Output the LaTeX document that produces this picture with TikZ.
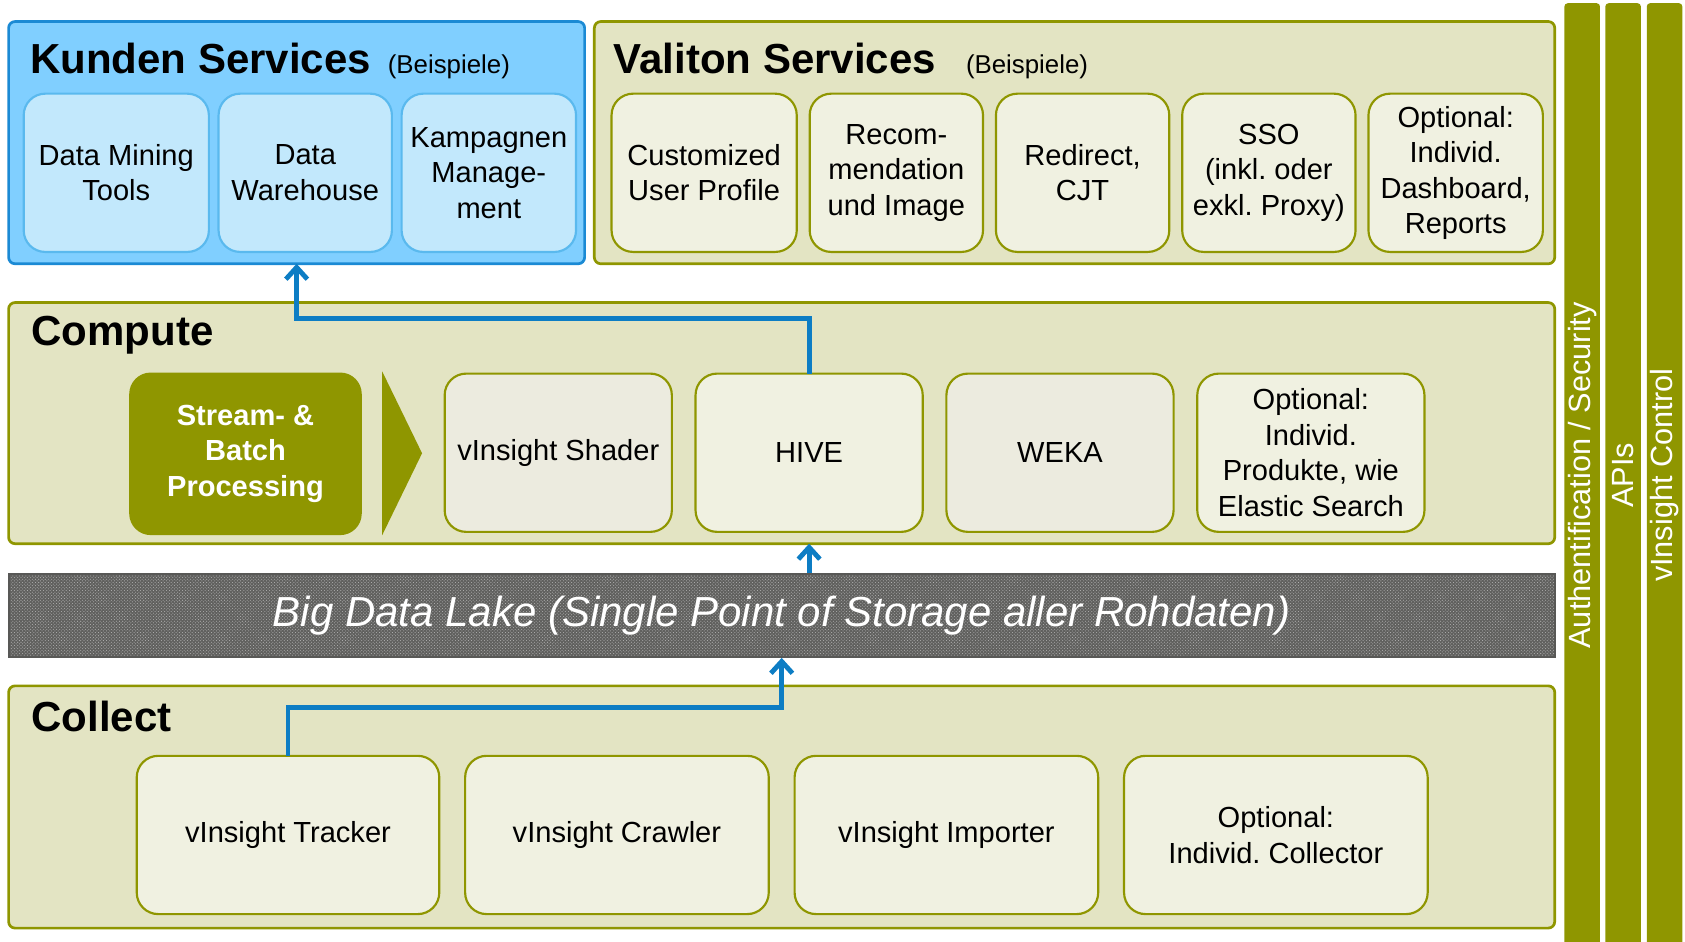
\documentclass[tikz,border=0pt]{standalone}
\usepackage{fontspec}
\setmainfont{Liberation Sans}
\usetikzlibrary{positioning, arrows.meta, patterns}
\frenchspacing
\definecolor{vgreen}{RGB}{143,150,0}
\definecolor{vfill}{RGB}{227,228,195}
\definecolor{vlight}{RGB}{240,241,225}
\definecolor{vgray}{RGB}{236,235,223}
\definecolor{kfill}{RGB}{128,207,255}
\definecolor{kline}{RGB}{27,138,212}
\definecolor{kitemfill}{RGB}{194,232,252}
\definecolor{kitemline}{RGB}{90,185,238}
\definecolor{flowblue}{RGB}{13,125,196}
\definecolor{lakedark}{RGB}{88,88,86}
\tikzset{
    group/.style={draw=vgreen, line width=2.5pt, fill=vfill, rounded corners=6pt, inner sep=0pt, outer sep=0pt}, % outer layer boxes
    kgroup/.style={group, draw=kline, fill=kfill},
    item/.style={draw=vgreen, line width=2pt, fill=vlight, rounded corners=20pt, align=center, inner sep=0pt, outer sep=0pt, minimum height=147pt, font=\fontsize{27}{33}\selectfont},
    kitem/.style={item, draw=kitemline, fill=kitemfill},
    title/.style={anchor=base west, inner sep=0pt, font=\fontsize{39}{45}\selectfont\bfseries},
    note/.style={anchor=base west, inner sep=0pt, font=\fontsize{24}{28}\selectfont},
    bar/.style={fill=vgreen, rounded corners=3pt, inner sep=0pt, outer sep=0pt, minimum width=877pt, minimum height=33pt, rotate=90, text=white, font=\fontsize{28.5}{32}\selectfont},
}
\tikzstyle{flow} = [line width=4.5pt, draw=flowblue, -{Straight Barb[length=11pt, width=20pt]}]

\begin{document}
\begin{tikzpicture}[x=1pt, y=-1pt]
    \useasboundingbox (0,0) rectangle (1565,874);

    % Kunden Services
    \node[kgroup, minimum width=535pt, minimum height=225pt] (kunden) at (275.5,132.5) {};
    \node[title] (ktitle) at (28,68) {Kunden Services};
    \node[note] (knote) at (360,68) {(Beispiele)};
    \node[kitem, minimum width=172pt] (mining) at (108,160.5) {Data Mining\\Tools};
    \node[kitem, minimum width=161pt, right=9pt of mining] (warehouse) {Data\\Warehouse};
    \node[kitem, minimum width=162pt, right=9pt of warehouse] (kampagne) {Kampagnen\\Manage-\\ment};

    % Valiton Services
    \node[group, minimum width=892pt, minimum height=225pt] (valiton) at (998,132.5) {};
    \node[title] (vtitle) at (570,68) {Valiton Services};
    \node[note] (vnote) at (897,68) {(Beispiele)};
    \node[item, minimum width=172pt] (profile) at (654,160.5) {Customized\\User Profile};
    \node[item, minimum width=161pt, right=12pt of profile] (recom) {Recom-\\mendation\\und Image};
    \node[item, minimum width=161pt, right=12pt of recom] (redirect) {Redirect,\\CJT};
    \node[item, minimum width=161pt, right=12pt of redirect] (sso) {SSO\\(inkl. oder\\exkl. Proxy)};
    \node[item, minimum width=162pt, right=12pt of sso] (dashboard) {Optional:\\Individ.\\Dashboard,\\Reports};

    % Compute
    \node[group, minimum width=1436pt, minimum height=224pt] (compute) at (726,393) {};
    \node[title] (ctitle) at (29,321) {Compute};
    \node[item, draw=none, fill=vgreen, minimum width=216pt, minimum height=151pt, text=white, font=\fontsize{27}{33}\selectfont\bfseries] (stream) at (228,421.5) {Stream- \&\\Batch\\Processing};
    \fill[vgreen] (355,345) -- (392,421) -- (355,497) -- cycle;
    \node[item, fill=vgray, minimum width=211pt] (shader) at (518.5,420.5) {vInsight Shader};
    \node[item, minimum width=211pt, right=22pt of shader] (hive) {HIVE};
    \node[item, fill=vgray, minimum width=211pt, right=22pt of hive] (weka) {WEKA};
    \node[item, minimum width=211pt, right=22pt of weka] (produkte) {Optional:\\Individ.\\Produkte, wie\\Elastic Search};

    % Big Data Lake
    \node[draw=lakedark, line width=2pt, preaction={fill=lakedark!80!gray}, pattern=crosshatch dots, pattern color=gray!60, minimum width=1436pt, minimum height=77pt, text=white, font=\fontsize{39}{45}\selectfont\itshape] (lake) at (726,571.5) {Big Data Lake (Single Point of Storage aller Rohdaten)};

    % Collect
    \node[group, minimum width=1436pt, minimum height=225pt] (collect) at (726,749.5) {};
    \node[title] (cotitle) at (29,679) {Collect};
    \node[item, minimum width=281pt] (tracker) at (267.5,775.5) {vInsight Tracker};
    \node[item, minimum width=282pt, right=24pt of tracker] (crawler) {vInsight Crawler};
    \node[item, minimum width=282pt, right=24pt of crawler] (importer) {vInsight Importer};
    \node[item, minimum width=282pt, right=24pt of importer] (collector) {Optional:\\Individ. Collector};

    % vertical layers
    \node[bar] (security) at (1469.5,441.5) {Authentification / Security};
    \node[bar] (apis) at (1507.5,441.5) {APIs};
    \node[bar] (control) at (1546,441.5) {vInsight Control};

    % data flow
    \draw[flow] (hive.north) -- ++(0,-51) -| (kunden.south);
    \draw[flow] (lake.north -| hive.south) -- (hive.south |- compute.south);
    \draw[flow] (tracker.north) -- ++(0,-45) -| (lake.south);
\end{tikzpicture}
\end{document}
